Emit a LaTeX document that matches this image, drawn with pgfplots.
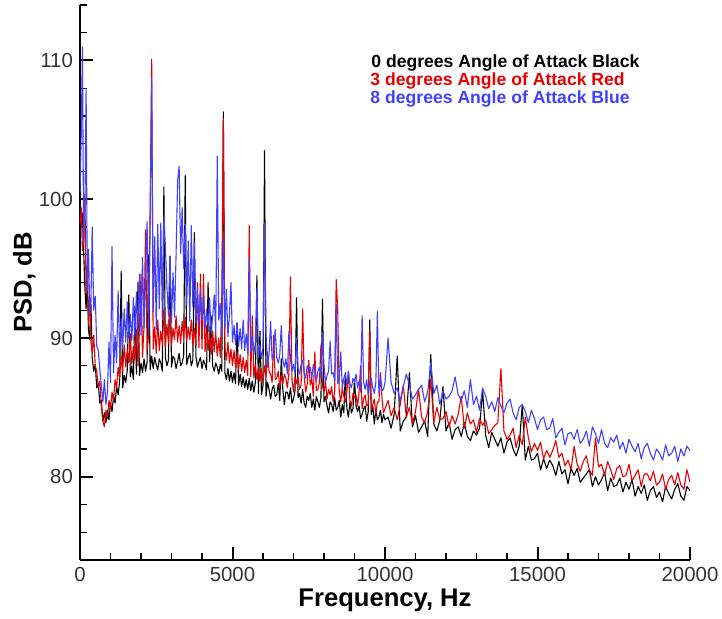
\documentclass[border=0pt]{standalone}
\usepackage{pgfplots}
\pgfplotsset{compat=1.18}
\usepackage{pgfplotstable}
\usepackage{fontspec}
\setmainfont{Liberation Sans}
\definecolor{cred}{RGB}{230,0,0}
\definecolor{cblue}{RGB}{64,64,255}
\pgfplotstableread{
f k r b
0 97.5 98.2 100.5
40 98.6 99.4 104.5
80 99.0 96.3 111.0
120 96.2 97.0 96.8
160 93.6 100.4 98.6
200 92.1 93.2 108.0
240 94.0 95.2 93.4
280 90.6 90.9 96.4
320 89.9 93.1 91.7
360 92.4 89.7 92.6
400 88.6 88.9 98.0
450 87.6 90.2 92.0
500 88.1 88.0 93.0
550 86.4 87.6 89.4
600 86.7 86.4 89.1
650 85.3 86.9 87.7
700 85.5 85.1 86.6
750 84.0 84.0 85.4
800 84.6 83.6 87.0
850 83.9 84.8 85.2
900 84.8 84.2 86.1
950 84.1 85.5 89.7
1000 85.3 84.9 86.8
1050 84.7 86.1 96.6
1100 85.8 85.5 87.5
1150 85.3 87.0 90.2
1200 86.5 86.4 88.2
1250 85.9 87.9 93.4
1300 86.9 87.1 89.0
1350 94.8 88.7 91.4
1400 86.4 87.6 89.2
1450 87.3 89.5 92.1
1500 86.8 87.9 89.7
1550 87.7 89.2 92.6
1600 93.1 88.2 90.0
1650 87.2 90.3 91.7
1700 88.0 88.1 89.8
1750 87.0 89.4 92.9
1800 92.3 88.4 90.1
1850 87.4 90.6 93.3
1900 94.0 88.0 90.4
1950 87.3 91.0 94.6
2000 88.2 94.6 90.2
2050 87.5 88.6 95.8
2100 88.5 90.9 90.7
2150 87.6 97.8 94.3
2200 88.3 89.0 98.4
2250 96.0 90.2 90.4
2300 87.7 99.4 98.2
2350 88.7 110.1 108.7
2400 87.8 89.2 91.9
2450 88.6 90.8 97.3
2500 88.1 88.9 90.6
2550 87.7 91.3 98.2
2600 88.5 89.1 92.1
2650 88.2 90.5 98.3
2700 87.6 89.5 91.3
2750 100.9 92.1 98.8
2800 88.6 89.3 96.6
2850 88.0 91.0 93.7
2900 88.4 89.6 91.6
2950 95.9 91.8 95.9
3000 87.9 89.5 91.1
3050 88.7 90.7 94.7
3100 88.5 89.9 91.5
3150 87.8 91.6 96.0
3200 88.3 89.7 101.3
3250 88.9 90.9 102.4
3300 88.0 89.6 96.1
3350 88.2 91.2 99.4
3400 88.8 90.0 95.0
3450 101.7 91.5 98.2
3500 88.1 89.8 92.4
3550 88.6 90.8 97.0
3600 88.9 89.9 91.2
3650 88.0 91.3 98.1
3700 88.4 89.5 92.3
3750 97.6 90.7 96.9
3800 88.7 89.4 91.1
3850 87.9 94.0 93.6
3900 88.3 89.3 90.9
3950 88.6 94.6 93.6
4000 87.8 89.2 91.3
4050 88.4 94.6 93.0
4100 88.1 89.0 90.6
4150 87.7 90.9 92.1
4200 94.0 89.1 90.8
4250 88.3 90.3 92.9
4300 91.6 88.8 90.3
4350 88.0 90.5 91.6
4400 87.6 89.0 93.1
4450 88.2 90.4 90.4
4500 87.9 88.7 103.1
4550 87.4 90.0 91.3
4600 88.1 88.6 92.5
4650 87.6 93.0 90.2
4700 106.3 105.8 97.2
4750 87.5 89.3 90.7
4800 87.0 88.4 93.5
4850 87.8 89.7 90.1
4900 86.9 88.2 91.7
4950 87.6 89.2 94.0
5000 86.8 88.0 89.7
5050 87.5 89.1 90.9
5100 86.7 87.9 89.5
5150 91.1 88.9 91.1
5200 86.6 87.7 89.4
5250 87.4 88.8 90.7
5300 86.5 87.6 89.2
5350 87.2 88.6 91.3
5400 86.4 87.5 89.1
5450 87.0 88.4 90.3
5500 86.3 87.3 88.9
5550 87.1 98.1 95.7
5600 86.2 87.2 89.0
5650 86.9 91.6 90.1
5700 86.1 87.1 88.8
5750 86.8 88.1 89.7
5800 94.5 87.0 93.6
5850 86.0 87.9 88.6
5900 90.5 86.9 89.5
5950 85.9 87.8 88.5
6000 86.6 86.8 89.3
6050 103.5 88.0 98.3
6100 85.8 87.2 90.3
6150 86.8 89.0 87.9
6200 86.3 87.6 88.9
6250 85.6 87.4 91.2
6300 86.3 86.8 88.4
6350 86.6 90.2 88.9
6400 85.8 87.0 90.6
6450 85.9 87.1 88.6
6500 86.7 87.6 88.2
6550 85.5 86.5 88.8
6600 88.5 87.3 90.9
6650 86.3 86.7 88.4
6700 85.2 87.4 87.9
6750 86.1 87.1 88.5
6800 86.1 86.4 87.4
6850 85.6 87.5 90.5
6900 86.4 94.4 88.5
6950 85.3 87.0 87.6
7000 85.6 86.1 88.1
7050 86.2 87.2 87.4
7100 92.9 86.7 90.0
7150 85.7 87.2 87.8
7200 86.0 86.3 87.4
7250 85.3 86.6 88.1
7300 86.3 92.1 88.4
7350 85.3 87.2 87.5
7400 85.0 86.1 87.1
7450 85.8 86.7 88.0
7500 85.5 88.4 87.7
7550 86.0 86.6 87.9
7600 85.0 87.1 87.1
7650 85.6 85.8 88.1
7700 84.8 89.0 87.6
7750 85.8 86.2 86.9
7800 85.4 86.3 87.6
7850 85.0 86.8 87.9
7900 85.7 89.5 87.1
7950 92.8 86.5 90.4
8000 85.4 86.1 88.0
8050 85.8 86.8 86.8
8100 85.1 85.6 87.3
8150 84.6 86.3 87.6
8200 85.4 85.9 89.8
8250 85.2 86.5 87.4
8300 84.7 85.4 87.5
8350 85.7 86.1 86.9
8400 84.8 94.2 92.4
8450 85.0 92.0 86.7
8500 85.5 86.1 87.0
8550 84.3 85.4 89.0
8600 85.2 86.4 86.4
8650 84.6 85.8 87.1
8700 87.5 85.4 87.4
8750 84.9 86.1 86.6
8800 84.3 87.6 87.6
8850 85.4 85.5 86.7
8900 84.6 85.1 86.4
8950 84.9 86.0 87.1
9000 87.0 85.7 86.8
9050 85.1 85.9 87.4
9100 84.7 85.1 86.4
9150 85.1 86.1 86.9
9200 84.2 88.0 86.1
9250 84.5 84.9 91.6
9300 84.9 85.6 86.8
9350 85.1 85.9 86.3
9400 84.0 85.1 87.0
9450 84.7 85.2 85.9
9500 91.3 90.5 86.8
9550 84.5 84.8 87.1
9600 85.1 85.2 86.4
9650 83.8 85.6 86.0
9700 84.8 84.5 86.8
9750 84.1 85.4 91.9
9800 84.3 85.4 86.0
9850 84.8 87.5 87.1
9900 83.9 85.7 86.2
9950 84.5 84.6 86.3
10000 84.1 84.9 86.8
10100 84.3 85.5 90.0
10200 83.5 84.4 86.8
10300 84.5 85.0 86.0
10400 88.7 84.1 86.4
10500 83.3 85.2 85.5
10600 84.0 86.6 86.5
10700 84.3 84.3 87.4
10800 87.5 85.0 86.6
10900 83.6 83.8 85.6
11000 84.4 84.7 85.9
11100 83.2 86.3 86.3
11200 83.6 84.3 86.6
11300 84.0 83.9 85.4
11400 82.9 84.7 86.1
11500 88.8 87.0 88.2
11600 83.8 83.9 86.0
11700 83.3 85.0 86.6
11800 84.1 84.1 85.2
11900 86.5 84.2 86.2
12000 83.3 84.7 85.6
12100 83.9 83.6 85.8
12200 82.7 84.4 86.2
12300 83.4 83.8 87.2
12400 83.6 84.5 85.9
12500 82.9 85.8 85.5
12600 83.9 83.5 86.2
12700 82.9 84.6 85.0
12800 82.6 83.8 87.0
12900 83.3 84.1 85.2
13000 83.0 83.2 85.8
13100 83.5 84.2 84.8
13200 86.2 83.7 86.4
13300 83.0 84.1 85.8
13400 82.1 83.1 84.9
13500 83.2 83.4 85.4
13600 82.7 83.7 84.7
13700 82.2 83.9 85.7
13800 82.8 87.8 85.1
13900 81.7 83.3 84.6
14000 82.5 82.7 85.3
14100 82.8 83.0 85.6
14200 82.0 83.5 84.6
14300 81.5 82.1 84.1
14400 82.2 83.0 85.0
14500 85.2 82.3 85.2
14600 81.2 84.3 84.7
14700 82.2 82.8 83.9
14800 81.2 81.8 84.8
14900 81.3 82.4 84.2
15000 81.7 81.9 83.4
15100 80.5 82.5 84.1
15200 81.3 81.3 84.3
15300 80.6 81.9 83.4
15400 81.2 81.4 83.5
15500 80.8 81.9 84.2
15600 80.1 82.6 82.8
15700 81.1 81.4 83.2
15800 80.2 81.7 83.5
15900 80.5 80.8 82.3
16000 79.5 81.2 83.1
16100 80.6 80.5 83.2
16200 80.1 82.2 82.7
16300 80.6 80.9 83.4
16400 79.6 80.4 82.4
16500 79.9 81.1 82.7
16600 80.2 81.5 83.3
16700 80.5 80.5 82.2
16800 79.3 80.1 83.6
16900 80.0 82.8 83.1
17000 79.4 80.7 82.4
17100 79.8 80.9 83.4
17200 80.3 80.1 82.4
17300 79.0 81.1 82.1
17400 79.9 80.5 82.8
17500 79.3 79.8 82.5
17600 79.4 80.6 83.0
17700 79.9 80.8 82.0
17800 78.9 80.0 82.5
17900 79.6 80.1 81.7
18000 79.1 80.9 82.7
18100 79.8 79.7 82.2
18200 78.6 80.1 81.8
18300 79.3 80.5 82.4
18400 78.8 79.3 81.3
18500 79.4 80.2 82.1
18600 78.3 80.2 82.4
18700 79.0 79.7 81.7
18800 79.3 80.4 81.2
18900 78.5 79.4 82.0
19000 78.9 79.6 81.7
19100 78.2 80.2 81.2
19200 79.3 79.1 82.3
19300 78.8 79.8 81.5
19400 78.4 80.1 81.7
19500 79.1 79.4 82.2
19600 79.5 80.3 81.1
19700 78.6 79.4 82.0
19800 78.3 79.1 81.5
19900 79.3 80.5 82.2
20000 79.0 79.6 81.9
}\spec
\begin{document}
\begin{tikzpicture}
\begin{axis}[
  at={(0pt,0pt)}, anchor=south west,
  scale only axis, width=305pt, height=277.5pt,
  xmin=0, xmax=20000, ymin=74, ymax=114,
  axis lines=left,
  axis line style={-, line width=1pt, black},
  xtick={0,5000,10000,15000,20000},
  minor xtick={1000,2000,3000,4000,6000,7000,8000,9000,11000,12000,13000,14000,16000,17000,18000,19000},
  ytick={80,90,100,110},
  minor ytick={74,76,78,82,84,86,88,92,94,96,98,102,104,106,108,112,114},
  tick align=inside,
  major tick length=6.5pt, minor tick length=3.5pt,
  major tick style={line width=1pt, black},
  minor tick style={line width=0.6pt, black},
  scaled x ticks=false,
  /pgf/number format/1000 sep={},
  /pgf/number format/assume math mode=true,
  tick label style={font=\fontsize{10.2}{12}\selectfont, text=black!80},
  xlabel={Frequency, Hz}, ylabel={PSD, dB},
  every axis x label/.style={at={(axis description cs:0.5,0)}, anchor=base, yshift=-23.5pt, font=\bfseries\fontsize{12.8}{15}\selectfont},
  every axis y label/.style={at={(axis description cs:-0.0795,0.5)}, rotate=90, anchor=base, font=\bfseries\fontsize{12.8}{15}\selectfont},
  clip=true,
]
\addplot[black, line width=0.55pt, line join=round, mark=none] table[x=f,y=k]{\spec};
\addplot[cred, line width=0.55pt, line join=round, mark=none] table[x=f,y=r]{\spec};
\addplot[cblue, line width=0.55pt, line join=round, mark=none] table[x=f,y=b]{\spec};
\node[anchor=west, inner sep=0pt, text=black, font=\bfseries\fontsize{8.8}{10}\selectfont] at (axis cs:9540,109.8) {0 degrees Angle of Attack Black};
\node[anchor=west, inner sep=0pt, text=cred, font=\bfseries\fontsize{8.8}{10}\selectfont] at (axis cs:9510,108.5) {3 degrees Angle of Attack Red};
\node[anchor=west, inner sep=0pt, text=cblue, font=\bfseries\fontsize{8.8}{10}\selectfont] at (axis cs:9510,107.2) {8 degrees Angle of Attack Blue};
\end{axis}
\pgfresetboundingbox
\path (-40pt,-29.5pt) rectangle (321pt,280pt);
\end{tikzpicture}
\end{document}
